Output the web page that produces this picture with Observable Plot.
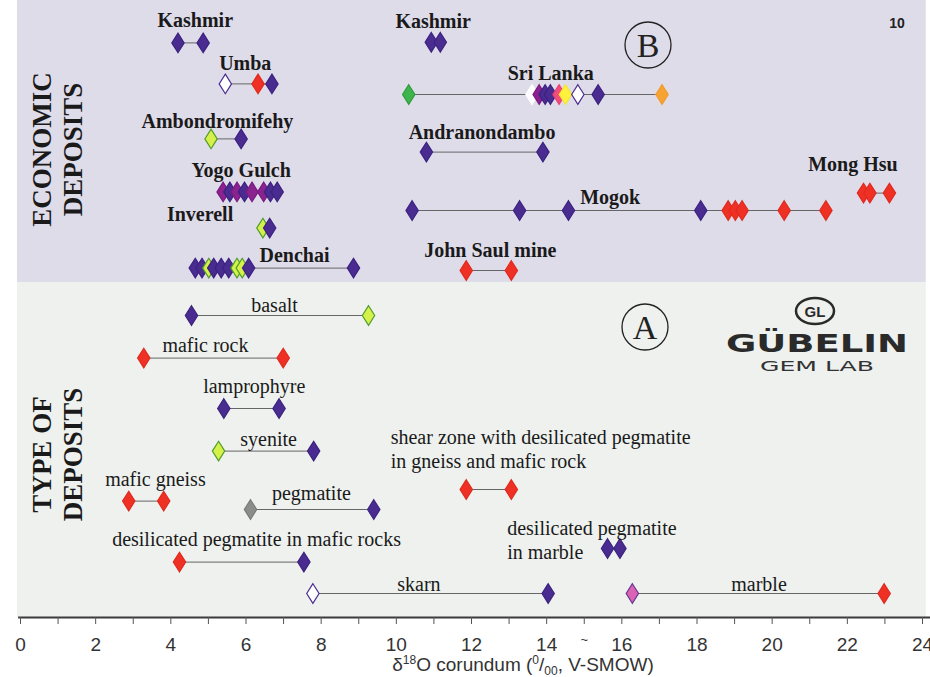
<!DOCTYPE html>
<html>
<head>
<meta charset="utf-8">
<script src="https://cdn.jsdelivr.net/npm/d3@7"></script>
<script src="https://cdn.jsdelivr.net/npm/@observablehq/plot@0.6"></script>
<style>
  html, body { margin: 0; padding: 0; background: #ffffff; }
  #chart svg { display: block; }
</style>
</head>
<body>
<div id="chart"></div>
<script>
// ---------------- DATA ----------------
// deposit names (economic deposits first, then deposit types)
const depositNames = [
  "Kashmir", "Kashmir", "Umba", "Sri Lanka", "Ambondromifehy", "Andranondambo",
  "Yogo Gulch", "Mong Hsu", "Mogok", "Inverell", "Denchai", "John Saul mine",
  "basalt", "mafic rock", "lamprophyre", "syenite",
  "shear zone with desilicated pegmatite\nin gneiss and mafic rock",
  "mafic gneiss", "pegmatite", "desilicated pegmatite\nin marble",
  "desilicated pegmatite in mafic rocks", "skarn", "marble"
];
const depositGroup = [
  "economic", "economic", "economic", "economic", "economic", "economic",
  "economic", "economic", "economic", "economic", "economic", "economic",
  "type", "type", "type", "type", "type", "type", "type", "type", "type", "type", "type"
];
// row (lane) of each deposit, top to bottom
const depositRow = [
  2.12, 2.09, 4.17, 4.7, 6.92, 7.58, 9.57, 9.63, 10.5, 11.38, 13.38, 13.5,
  15.75, 17.88, 20.4, 22.53, 24.45, 25.03, 25.45, 27.4, 28.08, 29.65, 29.65
];
// δ18O values (‰) of the corundum samples of each deposit
const depositValues = [
  [4.19, 4.86],
  [10.93, 11.17],
  [5.45, 6.32, 6.69],
  [10.33, 13.61, 13.8, 13.96, 14.1, 14.33, 14.5, 14.83, 15.37, 17.07],
  [5.07, 5.87],
  [10.8, 13.9],
  [5.39, 5.57, 5.76, 5.96, 6.16, 6.47, 6.65, 6.83],
  [22.43, 22.6, 23.12],
  [10.42, 13.28, 14.58, 18.1, 18.83, 19.02, 19.2, 20.32, 21.43],
  [6.45, 6.63],
  [4.65, 4.83, 5.01, 5.14, 5.34, 5.54, 5.76, 5.9, 6.07, 8.86],
  [11.86, 13.06],
  [4.55, 9.26],
  [3.28, 6.99],
  [5.41, 6.88],
  [5.27, 7.8],
  [11.86, 13.06],
  [2.88, 3.81],
  [6.12, 9.4],
  [15.62, 15.95],
  [4.23, 7.54],
  [7.78, 14.04],
  [16.28, 22.98]
];
// gem colour of each sample
const depositGems = [
  ["blue", "blue"],
  ["blue", "blue"],
  ["colourless", "ruby", "blue"],
  ["green", "white", "violet", "blue", "blue", "pink", "yellow", "colourless", "blue", "orange"],
  ["yellowgreen", "blue"],
  ["blue", "blue"],
  ["violet", "blue", "violet", "blue", "violet", "violet", "blue", "blue"],
  ["ruby", "ruby", "ruby"],
  ["blue", "blue", "blue", "blue", "ruby", "ruby", "ruby", "ruby", "ruby"],
  ["yellowgreen", "blue"],
  ["blue", "blue", "yellowgreen", "blue", "blue", "blue", "yellowgreen", "yellowgreen", "blue", "blue"],
  ["ruby", "ruby"],
  ["blue", "yellowgreen"],
  ["ruby", "ruby"],
  ["blue", "blue"],
  ["yellowgreen", "blue"],
  ["ruby", "ruby"],
  ["ruby", "ruby"],
  ["grey", "blue"],
  ["blue", "blue"],
  ["ruby", "blue"],
  ["colourless", "blue"],
  ["pinkviolet", "ruby"]
];
const majorTicks = [0, 2, 4, 6, 8, 10, 12, 14, 16, 18, 20, 22, 24];
const minorTicks = [1, 3, 5, 7, 9, 11, 13, 15, 17, 19, 21, 23];
const panelTitles = ["ECONOMIC\nDEPOSITS", "TYPE OF\nDEPOSITS"];

// ---------------- LAYOUT / STYLE ----------------
// label anchor point [x value, row] and text anchor for each deposit label
const labelPlace = [
  [4.65, 0.92, "middle"], [10.98, 1.0, "middle"], [5.98, 3.08, "middle"], [14.11, 3.58, "middle"],
  [5.24, 5.97, "middle"], [12.28, 6.55, "middle"], [5.87, 8.45, "middle"], [22.15, 8.15, "middle"],
  [15.69, 9.8, "middle"], [5.66, 10.65, "end"], [7.29, 12.7, "middle"], [12.5, 12.42, "middle"],
  [6.76, 15.2, "middle"], [4.92, 17.2, "middle"], [6.22, 19.25, "middle"], [6.6, 21.9, "middle"],
  [9.85, 22.4, "start"], [3.59, 23.9, "middle"], [7.74, 24.58, "middle"], [12.95, 26.94, "start"],
  [6.28, 26.9, "middle"], [10.6, 29.13, "middle"], [19.65, 29.13, "middle"]
];
const titleRows = [7.45, 22.7];
const gemFill = {
  blue: "#4a2c90", ruby: "#ee3124", yellowgreen: "#d6f04a", green: "#3db54a",
  orange: "#f7a331", violet: "#8a2390", pink: "#f04c7c", yellow: "#fff23c",
  colourless: "#ffffff", white: "#ffffff", grey: "#8c8c8c", pinkviolet: "#d964b4"
};
const gemStroke = {
  blue: "#3b2280", ruby: "#e02a1e", yellowgreen: "#4f9d2c", green: "#2f9a3c",
  orange: "#f09a2a", violet: "#7a1a80", pink: "#e84070", yellow: "#f5e430",
  colourless: "#4a2c90", white: "#ffffff", grey: "#7a7a7a", pinkviolet: "#6a3595"
};
const SERIF = "'Liberation Serif', 'Times New Roman', serif";
const SANS = "'Liberation Sans', Arial, sans-serif";

// ---------------- BUILD TABLES ----------------
const points = [];
const ranges = [];
depositValues.forEach((vals, i) => {
  vals.forEach((v, j) => points.push({deposit: depositNames[i], row: depositRow[i], value: v, gem: depositGems[i][j]}));
  ranges.push({row: depositRow[i], lo: d3.min(vals), hi: d3.max(vals)});
});
const labels = depositNames.map((name, i) => ({
  text: name, group: depositGroup[i], x: labelPlace[i][0], row: labelPlace[i][1], anchor: labelPlace[i][2]
}));
const panels = [
  {x1: -0.08, x2: 24.1, y1: 0, y2: 14.1, fill: "#dfdcea"},
  {x1: -0.08, x2: 24.1, y1: 14.1, y2: 30.85, fill: "#eef1ee"}
];
const axisRow = 30.85;

const tallDiamond = {
  draw(ctx, size) {
    const r = Math.sqrt(size / Math.PI), w = r * 0.63;
    ctx.moveTo(0, -r); ctx.lineTo(w, 0); ctx.lineTo(0, r); ctx.lineTo(-w, 0); ctx.closePath();
  }
};

const labelMark = (group, anchor, opts) => Plot.text(
  labels.filter(d => d.group === group && d.anchor === anchor),
  {x: "x", y: "row", text: "text", textAnchor: anchor, fill: "#1a1a1a", fontFamily: SERIF, fontSize: 20, lineHeight: 1.2, ...opts}
);

const plot = Plot.plot({
  width: 930, height: 677,
  marginLeft: 20, marginRight: 8, marginTop: 0, marginBottom: 60,
  x: {domain: [0, 24], axis: null},
  y: {domain: [axisRow, 0], axis: null},
  color: {type: "identity"},
  style: {background: "transparent", overflow: "visible"},
  marks: [
    Plot.rect(panels, {x1: "x1", x2: "x2", y1: "y1", y2: "y2", fill: "fill"}),
    Plot.ruleY(ranges, {y: "row", x1: "lo", x2: "hi", stroke: "#666", strokeWidth: 1}),
    Plot.dot(points, {
      x: "value", y: "row", r: 9.8, symbol: tallDiamond,
      fill: d => gemFill[d.gem], stroke: d => gemStroke[d.gem], strokeWidth: 1.2
    }),
    labelMark("economic", "middle", {fontWeight: "bold"}),
    labelMark("economic", "end", {fontWeight: "bold"}),
    labelMark("type", "middle", {}),
    labelMark("type", "start", {}),
    Plot.text(panelTitles, {
      y: (d, i) => titleRows[i], frameAnchor: "left", textAnchor: "middle", dx: 36, text: d => d, rotate: -90,
      fontFamily: SERIF, fontWeight: "bold", fontSize: 27, lineHeight: 1.15, fill: "#1a1a1a"
    }),
    // x axis
    Plot.ruleY([axisRow], {x1: -0.05, x2: 24.3, stroke: "#3a3a3a", strokeWidth: 2}),
    Plot.ruleX(majorTicks.concat(minorTicks), {x: d => d, y1: axisRow, y2: axisRow + 0.35, stroke: "#555", strokeWidth: 1}),
    Plot.text(majorTicks, {x: d => d, y: axisRow, dy: 27, text: d => String(d), fontFamily: SANS, fontSize: 19, fill: "#333"}),
    Plot.text(["~"], {x: 15, y: axisRow, dy: 22, text: d => d, fontFamily: SANS, fontSize: 13, fill: "#333"})
  ]
});

document.getElementById("chart").appendChild(plot);

// ---------------- DECORATIONS ----------------
const svg = d3.select(plot);
// axis title with super/subscripts
const t = svg.append("text").attr("x", 523).attr("y", 671).attr("text-anchor", "middle")
  .attr("font-family", SANS).attr("font-size", 19).attr("fill", "#333");
t.append("tspan").text("δ");
t.append("tspan").attr("dy", -7).attr("font-size", 12).text("18");
t.append("tspan").attr("dy", 7).text("O corundum (");
t.append("tspan").attr("dy", -7).attr("font-size", 12).text("0");
t.append("tspan").attr("dy", 7).text("/");
t.append("tspan").attr("dy", 4).attr("font-size", 12).text("00");
t.append("tspan").attr("dy", -4).text(", V-SMOW)");

// circled panel letters
[["B", 648, 45], ["A", 645, 327]].forEach(([ch, cx, cy]) => {
  svg.append("circle").attr("cx", cx).attr("cy", cy).attr("r", 23)
    .attr("fill", "none").attr("stroke", "#222").attr("stroke-width", 1.3);
  svg.append("text").attr("x", cx).attr("y", cy + 12).attr("text-anchor", "middle")
    .attr("font-family", SERIF).attr("font-size", 34).attr("fill", "#222").text(ch);
});
// page number
svg.append("text").attr("x", 897).attr("y", 28).attr("text-anchor", "middle")
  .attr("font-family", SANS).attr("font-weight", "bold").attr("font-size", 14).attr("fill", "#222").text("10");
// logo
svg.append("ellipse").attr("cx", 815).attr("cy", 311).attr("rx", 19).attr("ry", 13)
  .attr("fill", "none").attr("stroke", "#2a2a2a").attr("stroke-width", 2.5);
svg.append("text").attr("x", 815).attr("y", 317).attr("text-anchor", "middle")
  .attr("font-family", SANS).attr("font-weight", "bold").attr("font-size", 15).attr("fill", "#2a2a2a").text("GL");
svg.append("text").attr("x", 817).attr("y", 352).attr("text-anchor", "middle")
  .attr("font-family", "'DejaVu Sans', " + SANS).attr("font-weight", "bold").attr("font-size", 25)
  .attr("textLength", 182).attr("lengthAdjust", "spacingAndGlyphs").attr("fill", "#2a2a2a").text("GÜBELIN");
svg.append("text").attr("x", 817).attr("y", 371).attr("text-anchor", "middle")
  .attr("font-family", "'DejaVu Sans', " + SANS).attr("font-size", 14)
  .attr("textLength", 114).attr("lengthAdjust", "spacingAndGlyphs").attr("fill", "#333").text("GEM LAB");
</script>
</body>
</html>
